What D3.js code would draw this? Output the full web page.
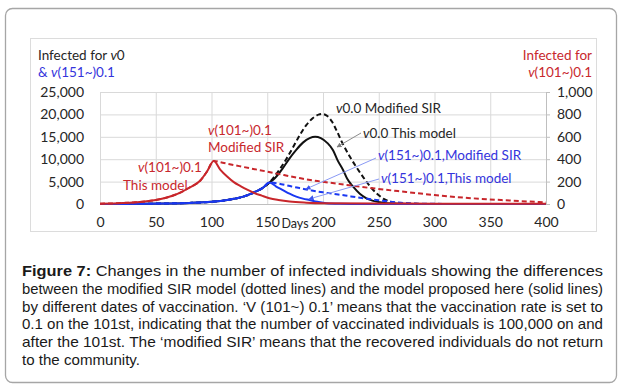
<!DOCTYPE html>
<html lang="en">
<head>
<meta charset="UTF-8">
<title>Figure 7 - infected individuals</title>
<script src="https://d3js.org/d3.v7.min.js"></script>
<style>
    body { margin: 0; padding: 0; background: #fff; }
    svg { display: block; }
    .chart text { font-family: Lato, "Open Sans", sans-serif; }
    .caption text { font-family: "Liberation Sans", Arial, sans-serif; font-size: 15px; fill: #1a1a1a; }
</style>
</head>
<body>
<svg id="fig" width="625" height="389"></svg>
<script>
    // ---- data ----
    const xTicks = [0, 50, 100, 150, 200, 250, 300, 350, 400];
    const yLeftTicks = [0, 5000, 10000, 15000, 20000, 25000];
    const yRightTicks = [0, 200, 400, 600, 800, 1000];

    // common growth before vaccination starts on day 151 (v0 and v(151~) coincide)
    const earlyDays = [0, 20, 40, 60, 80, 100, 110, 120, 130, 140, 146, 152];
    const earlyVals = [10, 25, 60, 120, 250, 500, 750, 1150, 1750, 2800, 3600, 4800];

    // v(151~)0.1, left axis
    const blueThisDays = [158, 164, 170, 176, 182, 188, 195, 203, 215, 230, 260, 300, 400];
    const blueThisVals = [3900, 3100, 2300, 1650, 1200, 880, 500, 180, 60, 20, 5, 2, 0];
    const blueModDays = [158, 164, 172, 179, 190, 200, 210, 220, 230, 240, 250, 260, 270, 280, 295, 320, 400];
    const blueModVals = [4650, 4350, 3900, 3550, 3000, 2600, 2250, 1900, 1500, 1150, 820, 520, 280, 130, 50, 15, 0];

    // v0.0, left axis
    const blackThisDays = [157, 164, 170, 176, 182, 188, 193, 198, 204, 209, 213, 218, 222, 227, 233, 239, 245, 251, 258, 270, 290, 400];
    const blackThisVals = [5800, 8000, 10200, 12100, 13700, 14700, 15000, 14700, 13600, 12000, 9800, 7600, 5500, 3860, 2300, 1270, 700, 400, 150, 30, 5, 0];
    const blackModDays = [156, 161, 167, 173, 179, 185, 191, 196, 199, 203, 208, 212, 218, 224, 230, 236, 242, 248, 254, 260, 268, 280, 300, 400];
    const blackModVals = [6000, 7700, 10000, 12600, 15300, 17600, 19200, 19950, 20100, 19800, 18400, 16500, 13300, 10600, 8200, 6000, 4000, 2400, 1200, 520, 180, 40, 5, 0];

    // v(101~)0.1, right axis
    const redEarlyDays = [0, 10, 20, 30, 40, 50, 60, 70, 80, 90, 96, 102];
    const redEarlyVals = [3, 5, 9, 14, 22, 36, 58, 92, 145, 210, 290, 384];
    const redThisDays = [108, 114, 120, 126, 132, 138, 145, 152, 160, 170, 185, 200, 250, 300, 350, 400];
    const redThisVals = [305, 245, 195, 160, 128, 100, 75, 52, 36, 22, 12, 7, 4, 3, 2, 2];
    const redModDays = [110, 120, 135, 150, 165, 180, 195, 210, 240, 270, 300, 330, 360, 400];
    const redModVals = [368, 348, 318, 289, 258, 229, 205, 185, 146, 112, 80, 54, 35, 15];

    const captionLines = [
        ["Figure 7:", " Changes in the number of infected individuals showing the differences"],
        ["", "between the modified SIR model (dotted lines) and the model proposed here (solid lines)"],
        ["", "by different dates of vaccination. \u2018V (101~) 0.1\u2019 means that the vaccination rate is set to"],
        ["", "0.1 on the 101st, indicating that the number of vaccinated individuals is 100,000 on and"],
        ["", "after the 101st. The \u2018modified SIR\u2019 means that the recovered individuals do not return"],
        ["", "to the community."]
    ];

    // ---- layout ----
    const svg = d3.select('#fig');
    const plot = { left: 100, right: 546, top: 92, bottom: 204 };
    const red = '#c8262b', blue = '#1a38f2', redText = '#c8282d', blueText = '#3434dc';

    svg.append('rect')
        .attr('x', 5.5).attr('y', 8.5).attr('width', 611).attr('height', 374)
        .attr('rx', 7).attr('fill', 'none').attr('stroke', '#a6a6a6').attr('stroke-width', 1.3);
    svg.append('rect')
        .attr('x', 30.5).attr('y', 38.5).attr('width', 566).attr('height', 193)
        .attr('fill', 'none').attr('stroke', '#dcdcdc');

    const x = d3.scaleLinear().domain([0, 400]).range([plot.left, plot.right]);
    const yL = d3.scaleLinear().domain([0, 25000]).range([plot.bottom, plot.top]);
    const yR = d3.scaleLinear().domain([0, 1000]).range([plot.bottom, plot.top]);

    const chart = svg.append('g').attr('class', 'chart');

    // gridlines
    chart.append('g')
        .attr('transform', `translate(0,${plot.bottom})`)
        .call(d3.axisBottom(x).tickValues(xTicks).tickSize(-(plot.bottom - plot.top)).tickFormat(''))
        .call(g => g.select('.domain').remove())
        .call(g => g.selectAll('line').attr('stroke', '#d9d9d9'));
    chart.append('g')
        .attr('transform', `translate(${plot.left},0)`)
        .call(d3.axisLeft(yL).tickValues(yLeftTicks).tickSize(-(plot.right - plot.left)).tickFormat(''))
        .call(g => g.select('.domain').remove())
        .call(g => g.selectAll('line').attr('stroke', '#d9d9d9'));

    // axes with labels
    const styleAxis = g => {
        g.selectAll('text').attr('font-size', 14).attr('fill', '#262626')
            .attr('font-family', 'Lato, sans-serif');
    };
    chart.append('g')
        .attr('transform', `translate(0,${plot.bottom})`)
        .call(d3.axisBottom(x).tickValues(xTicks).tickSize(0).tickPadding(13))
        .call(g => g.select('.domain').attr('stroke', '#bfbfbf'))
        .call(styleAxis);
    chart.append('g')
        .attr('transform', `translate(${plot.left},0)`)
        .call(d3.axisLeft(yL).tickValues(yLeftTicks).tickSize(0).tickPadding(16).tickFormat(d3.format(',')))
        .call(g => g.select('.domain').remove())
        .call(styleAxis);
    chart.append('g')
        .attr('transform', `translate(${plot.right},0)`)
        .call(d3.axisRight(yR).tickValues(yRightTicks).tickSizeOuter(0).tickSizeInner(4).tickPadding(7).tickFormat(d3.format(',')))
        .call(g => g.select('.domain').attr('stroke', '#bfbfbf'))
        .call(g => g.selectAll('line').attr('stroke', '#bfbfbf'))
        .call(styleAxis);

    chart.append('text').attr('x', 295).attr('y', 228).attr('text-anchor', 'middle')
        .attr('font-size', 12.5).attr('fill', '#262626').text('Days');

    // series
    const pts = (d, v) => d.map((day, i) => ({ day, v: v[i] }));
    const lineL = d3.line().x(p => x(p.day)).y(p => yL(p.v)).curve(d3.curveMonotoneX);
    const lineR = d3.line().x(p => x(p.day)).y(p => yR(p.v)).curve(d3.curveMonotoneX);
    const early = pts(earlyDays, earlyVals);
    const redEarly = pts(redEarlyDays, redEarlyVals);

    const series = [
        { data: early.concat(pts(blackModDays, blackModVals)), line: lineL, color: '#111', dash: '5,3' },
        { data: early.concat(pts(blackThisDays, blackThisVals)), line: lineL, color: '#111', dash: null },
        { data: early.concat(pts(blueModDays, blueModVals)), line: lineL, color: blue, dash: '5,3' },
        { data: early.concat(pts(blueThisDays, blueThisVals)), line: lineL, color: blue, dash: null },
        { data: redEarly.concat(pts(redModDays, redModVals)), line: lineR, color: red, dash: '5,3' },
        { data: redEarly.concat(pts(redThisDays, redThisVals)), line: lineR, color: red, dash: null }
    ];
    chart.append('g').selectAll('path')
        .data(series)
        .join('path')
        .attr('d', s => s.line(s.data))
        .attr('fill', 'none')
        .attr('stroke', s => s.color)
        .attr('stroke-width', 2)
        .attr('stroke-dasharray', s => s.dash);

    // arrow markers for the leader lines
    const defs = svg.append('defs');
    [['arrGrey', '#7f7f7f'], ['arrBlue', '#3d55f0']].forEach(([id, c]) => {
        defs.append('marker').attr('id', id).attr('viewBox', '0 0 10 10')
            .attr('refX', 9).attr('refY', 5).attr('markerWidth', 5).attr('markerHeight', 5)
            .attr('orient', 'auto')
            .append('path').attr('d', 'M0,0L10,5L0,10z').attr('fill', c);
    });
    chart.append('line').attr('x1', 361).attr('y1', 133).attr('x2', 337).attr('y2', 147)
        .attr('stroke', '#8c8c8c').attr('stroke-width', 1).attr('marker-end', 'url(#arrGrey)');
    chart.append('line').attr('x1', 376).attr('y1', 158).attr('x2', 306).attr('y2', 189)
        .attr('stroke', '#8a9af5').attr('stroke-width', 1).attr('marker-end', 'url(#arrBlue)');
    chart.append('line').attr('x1', 379).attr('y1', 179).attr('x2', 309).attr('y2', 199)
        .attr('stroke', '#8a9af5').attr('stroke-width', 1).attr('marker-end', 'url(#arrBlue)');

    // labels: [x, y, anchor, colour, prefix, plain, italic v, rest]
    const labels = [
        [38, 60, 'start', '#262626', '', 'Infected for ', 'v', '0'],
        [38, 77, 'start', blueText, '& ', '', 'v', '(151~)0.1'],
        [592, 60, 'end', redText, '', 'Infected for', '', ''],
        [592, 77, 'end', redText, '', '', 'v', '(101~)0.1'],
        [336, 113, 'start', '#262626', '', '', 'v', '0.0 Modified SIR'],
        [363, 138, 'start', '#262626', '', '', 'v', '0.0 This model'],
        [378, 160, 'start', blueText, '', '', 'v', '(151~)0.1,Modified SIR'],
        [381, 183, 'start', blueText, '', '', 'v', '(151~)0.1,This model'],
        [208, 135, 'start', redText, '', '', 'v', '(101~)0.1'],
        [208, 152, 'start', redText, '', 'Modified SIR', '', ''],
        [138, 172, 'start', redText, '', '', 'v', '(101~)0.1'],
        [123, 190, 'start', redText, '', 'This model', '', '']
    ];
    labels.forEach(([lx, ly, anchor, color, pre, plain, ital, rest]) => {
        const t = chart.append('text').attr('x', lx).attr('y', ly)
            .attr('text-anchor', anchor).attr('font-size', 13.5).attr('fill', color);
        if (pre) t.append('tspan').text(pre);
        if (plain) t.append('tspan').text(plain);
        if (ital) t.append('tspan').attr('font-style', 'italic').text(ital);
        if (rest) t.append('tspan').text(rest);
    });

    // caption, justified lines (glyphs narrowed like the original)
    const cap = svg.append('g').attr('class', 'caption');
    captionLines.forEach(([bold, rest], i) => {
        const t = cap.append('text')
            .attr('x', 22)
            .attr('y', 276 + i * 17.8)
            .attr('lengthAdjust', 'spacingAndGlyphs')
            .attr('textLength', i < captionLines.length - 1 ? 581 : 118);
        if (bold) t.append('tspan').attr('font-weight', 'bold').text(bold);
        t.append('tspan').text(rest);
    });
</script>
</body>
</html>
